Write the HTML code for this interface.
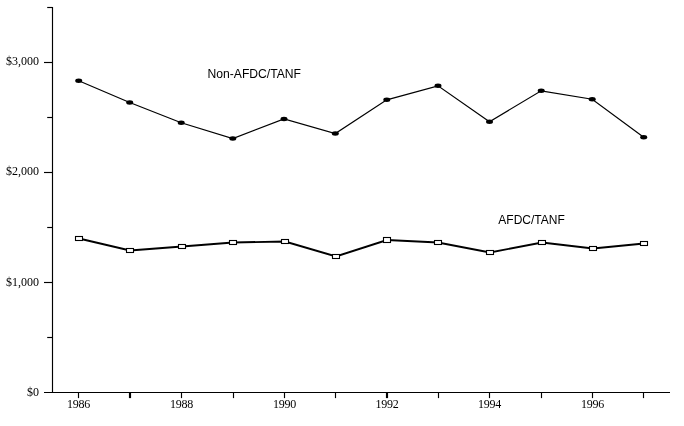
<!DOCTYPE html>
<html><head><meta charset="utf-8"><title>Chart</title>
<style>html,body{margin:0;padding:0;background:#fff;}body{width:684px;height:426px;overflow:hidden;}svg{display:block;position:absolute;left:0;top:0;will-change:transform;}
.s{font-family:"Liberation Serif",serif;font-size:12px;fill:#000;}
.h{font-family:"Liberation Sans",sans-serif;font-size:12px;fill:#000;}
</style></head><body>
<svg width="684" height="426" viewBox="0 0 684 426">
<rect x="0" y="0" width="684" height="426" fill="#ffffff"/>
<g stroke="#000" stroke-width="1.15" fill="none">
<line x1="52.5" y1="7.0" x2="52.5" y2="393.0"/>
<line x1="44" y1="392.5" x2="670" y2="392.5"/>
<line x1="47.2" y1="337.5" x2="52.5" y2="337.5"/>
<line x1="44" y1="282.5" x2="52.5" y2="282.5"/>
<line x1="47.2" y1="227.5" x2="52.5" y2="227.5"/>
<line x1="44" y1="172.5" x2="52.5" y2="172.5"/>
<line x1="47.2" y1="117.5" x2="52.5" y2="117.5"/>
<line x1="44" y1="62.5" x2="52.5" y2="62.5"/>
<line x1="47.2" y1="7.5" x2="52.5" y2="7.5"/>
<rect x="77.925" y="392" width="1.15" height="6.1" fill="#000" stroke="none"/>
<rect x="128.925" y="392" width="2.15" height="6.1" fill="#000" stroke="none"/>
<rect x="180.925" y="392" width="1.15" height="6.1" fill="#000" stroke="none"/>
<rect x="232.925" y="392" width="1.15" height="6.1" fill="#000" stroke="none"/>
<rect x="283.925" y="392" width="1.15" height="6.1" fill="#000" stroke="none"/>
<rect x="334.925" y="392" width="1.15" height="6.1" fill="#000" stroke="none"/>
<rect x="385.925" y="392" width="2.15" height="6.1" fill="#000" stroke="none"/>
<rect x="437.925" y="392" width="1.15" height="6.1" fill="#000" stroke="none"/>
<rect x="488.925" y="392" width="1.15" height="6.1" fill="#000" stroke="none"/>
<rect x="540.925" y="392" width="1.15" height="6.1" fill="#000" stroke="none"/>
<rect x="591.925" y="392" width="1.15" height="6.1" fill="#000" stroke="none"/>
<rect x="642.925" y="392" width="1.15" height="6.1" fill="#000" stroke="none"/>
</g>
<polyline points="78.7,80.7 129.7,102.5 181.2,122.7 232.8,138.5 284,119 335.3,133.5 386.8,99.8 438,85.8 489.5,121.7 541.2,90.8 592.2,99.2 643.7,137.3" fill="none" stroke="#000" stroke-width="1.2"/>
<ellipse cx="78.7" cy="80.7" rx="3.5" ry="2.25" fill="#000"/>
<ellipse cx="129.7" cy="102.5" rx="3.5" ry="2.25" fill="#000"/>
<ellipse cx="181.2" cy="122.7" rx="3.5" ry="2.25" fill="#000"/>
<ellipse cx="232.8" cy="138.5" rx="3.5" ry="2.25" fill="#000"/>
<ellipse cx="284" cy="119" rx="3.5" ry="2.25" fill="#000"/>
<ellipse cx="335.3" cy="133.5" rx="3.5" ry="2.25" fill="#000"/>
<ellipse cx="386.8" cy="99.8" rx="3.5" ry="2.25" fill="#000"/>
<ellipse cx="438" cy="85.8" rx="3.5" ry="2.25" fill="#000"/>
<ellipse cx="489.5" cy="121.7" rx="3.5" ry="2.25" fill="#000"/>
<ellipse cx="541.2" cy="90.8" rx="3.5" ry="2.25" fill="#000"/>
<ellipse cx="592.2" cy="99.2" rx="3.5" ry="2.25" fill="#000"/>
<ellipse cx="643.7" cy="137.3" rx="3.5" ry="2.25" fill="#000"/>
<polyline points="79,238.5 130,250.5 182,246.5 233,242.5 285,241.5 336,256.5 387,240.0 438,242.5 490,252.5 542,242.5 593,248.5 644,243.5" fill="none" stroke="#000" stroke-width="1.9"/>
<rect x="75.5" y="236.5" width="7" height="4" fill="#fff" stroke="#000" stroke-width="1.1"/>
<rect x="126.5" y="248.5" width="7" height="4" fill="#fff" stroke="#000" stroke-width="1.1"/>
<rect x="178.5" y="244.5" width="7" height="4" fill="#fff" stroke="#000" stroke-width="1.1"/>
<rect x="229.5" y="240.5" width="7" height="4" fill="#fff" stroke="#000" stroke-width="1.1"/>
<rect x="281.5" y="239.5" width="7" height="4" fill="#fff" stroke="#000" stroke-width="1.1"/>
<rect x="332.5" y="254.5" width="7" height="4" fill="#fff" stroke="#000" stroke-width="1.1"/>
<rect x="383.5" y="237.5" width="7" height="5" fill="#fff" stroke="#000" stroke-width="1.1"/>
<rect x="434.5" y="240.5" width="7" height="4" fill="#fff" stroke="#000" stroke-width="1.1"/>
<rect x="486.5" y="250.5" width="7" height="4" fill="#fff" stroke="#000" stroke-width="1.1"/>
<rect x="538.5" y="240.5" width="7" height="4" fill="#fff" stroke="#000" stroke-width="1.1"/>
<rect x="589.5" y="246.5" width="7" height="4" fill="#fff" stroke="#000" stroke-width="1.1"/>
<rect x="640.5" y="241.5" width="7" height="4" fill="#fff" stroke="#000" stroke-width="1.1"/>
<text class="s" x="39" y="396.0" text-anchor="end">$0</text>
<text class="s" x="39" y="286.0" text-anchor="end">$1,000</text>
<text class="s" x="39" y="175.0" text-anchor="end">$2,000</text>
<text class="s" x="39" y="65.0" text-anchor="end">$3,000</text>
<text class="s" x="67.1" y="408.3" letter-spacing="-0.3">1986</text>
<text class="s" x="170.1" y="408.3" letter-spacing="-0.3">1988</text>
<text class="s" x="273.1" y="408.3" letter-spacing="-0.3">1990</text>
<text class="s" x="375.6" y="408.3" letter-spacing="-0.3">1992</text>
<text class="s" x="478.1" y="408.3" letter-spacing="-0.3">1994</text>
<text class="s" x="581.1" y="408.3" letter-spacing="-0.3">1996</text>
<text class="h" x="207.5" y="77.8" style="font-size:12.15px">Non-AFDC/TANF</text>
<text class="h" x="498.3" y="223.8">AFDC/TANF</text>
</svg></body></html>
